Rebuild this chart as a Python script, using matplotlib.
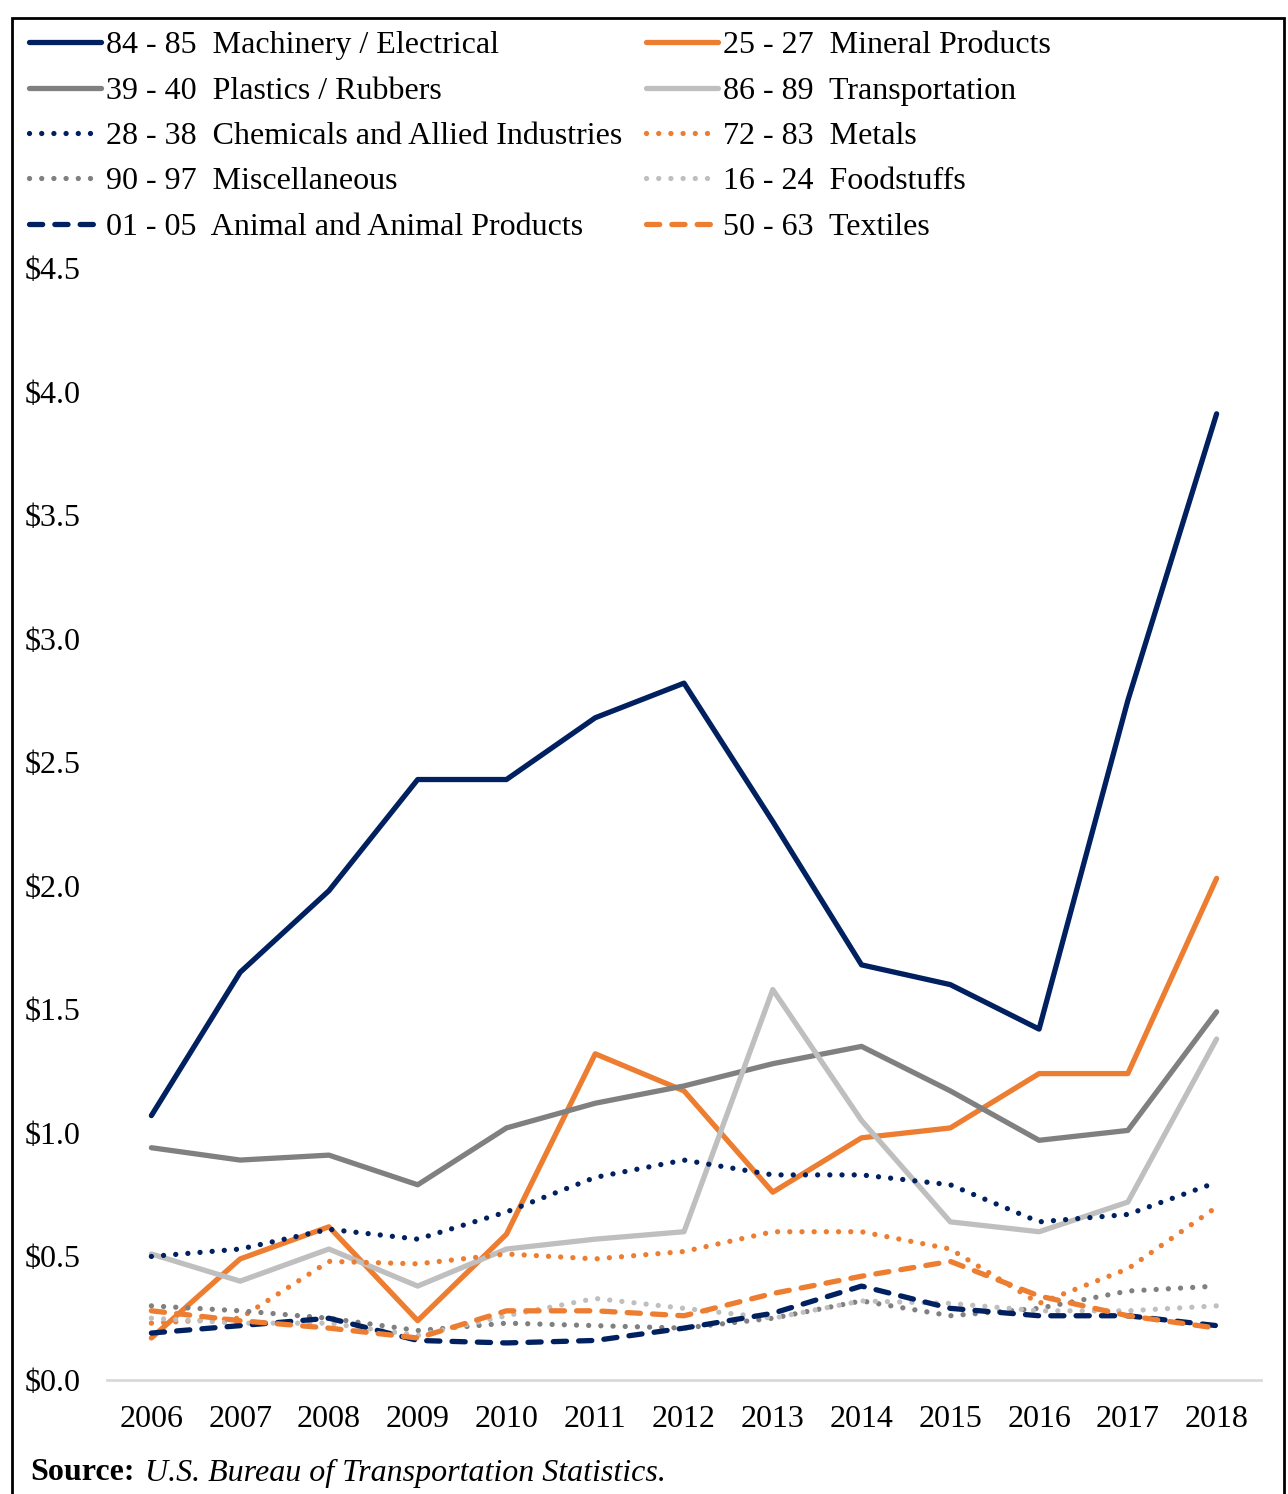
import numpy as np
import matplotlib
matplotlib.use('Agg')
import matplotlib.pyplot as plt
from matplotlib.patches import Rectangle

plt.rcParams['font.family'] = ['Liberation Serif', 'DejaVu Serif']

years = ['2006', '2007', '2008', '2009', '2010', '2011', '2012',
         '2013', '2014', '2015', '2016', '2017', '2018']

machinery = [1.07, 1.65, 1.98, 2.43, 2.43, 2.68, 2.82, 2.26, 1.68, 1.60, 1.42, 2.75, 3.91]
mineral = [0.17, 0.49, 0.62, 0.24, 0.59, 1.32, 1.17, 0.76, 0.98, 1.02, 1.24, 1.24, 2.03]
plastics = [0.94, 0.89, 0.91, 0.79, 1.02, 1.12, 1.19, 1.28, 1.35, 1.17, 0.97, 1.01, 1.49]
transport = [0.51, 0.40, 0.53, 0.38, 0.53, 0.57, 0.60, 1.58, 1.05, 0.64, 0.60, 0.72, 1.38]
chemicals = [0.50, 0.53, 0.61, 0.57, 0.68, 0.82, 0.89, 0.83, 0.83, 0.79, 0.64, 0.67, 0.80]
metals = [0.23, 0.25, 0.48, 0.47, 0.51, 0.49, 0.52, 0.60, 0.60, 0.53, 0.31, 0.45, 0.70]
misc = [0.30, 0.28, 0.25, 0.20, 0.23, 0.22, 0.21, 0.25, 0.32, 0.26, 0.29, 0.36, 0.38]
foodstuffs = [0.25, 0.23, 0.23, 0.18, 0.26, 0.33, 0.29, 0.25, 0.32, 0.31, 0.28, 0.28, 0.30]
animal = [0.19, 0.22, 0.25, 0.16, 0.15, 0.16, 0.21, 0.27, 0.38, 0.29, 0.26, 0.26, 0.22]
textiles = [0.28, 0.24, 0.21, 0.17, 0.28, 0.28, 0.26, 0.35, 0.42, 0.48, 0.34, 0.26, 0.21]

labels = ['84 - 85  Machinery / Electrical', '25 - 27  Mineral Products',
          '39 - 40  Plastics / Rubbers', '86 - 89  Transportation',
          '28 - 38  Chemicals and Allied Industries', '72 - 83  Metals',
          '90 - 97  Miscellaneous', '16 - 24  Foodstuffs',
          '01 - 05  Animal and Animal Products', '50 - 63  Textiles']
series = [machinery, mineral, plastics, transport, chemicals,
          metals, misc, foodstuffs, animal, textiles]

navy = '#002060'
orange = '#ED7D31'
gray = '#808080'
lgray = '#BFBFBF'
colors = [navy, orange, gray, lgray, navy, orange, gray, lgray, navy, orange]
solid = '-'
dot = (0, (0.01, 2.3))
dash = (0, (2.5, 2.3))
styles = [solid, solid, solid, solid, dot, dot, dot, dot, dash, dash]

W, H = 1288, 1494
fig = plt.figure(figsize=(W / 100, H / 100), dpi=100)
ax = fig.add_axes([107 / W, (H - 1380) / H, (1261 - 107) / W, (1380 - 268) / H])

x = np.arange(len(years))
handles = []
for vals, c, ls, lab in zip(series, colors, styles, labels):
    ln, = ax.plot(x, vals, color=c, linestyle=ls, lw=3.8, label=lab,
                  dash_capstyle='round', solid_capstyle='round')
    handles.append(ln)

ax.set_xlim(-0.5, len(years) - 0.5)
ax.set_ylim(0, 4.5)
ax.set_xticks(x)
ax.set_xticklabels(years)
yt = np.arange(0, 4.51, 0.5)
ax.set_yticks(yt)
ax.set_yticklabels(['$%.1f' % v for v in yt], ha='left')
ax.tick_params(axis='y', length=0, labelsize=23, pad=59)
ax.tick_params(axis='x', length=0, labelsize=23, pad=18)
for s in ['top', 'right', 'left']:
    ax.spines[s].set_visible(False)
ax.spines['bottom'].set_color('#D9D9D9')
ax.spines['bottom'].set_linewidth(2)

order = [0, 2, 4, 6, 8, 1, 3, 5, 7, 9]
fig.legend([handles[i] for i in order], [labels[i] for i in order],
           loc='upper left', bbox_to_anchor=(29 / W, 1 - 31 / H), ncol=2,
           frameon=False, fontsize=23, handlelength=2.26, handletextpad=0.15,
           columnspacing=0.75, labelspacing=0.5, borderaxespad=0, borderpad=0)

fig.text(30 / W, 1 - 1473 / H, 'Source:', fontsize=23, fontweight='bold', va='center')
fig.text(145 / W, 1 - 1473 / H, 'U.S. Bureau of Transportation Statistics.',
         fontsize=23, style='italic', va='center')

fig.patches.append(Rectangle((12 / W, -0.05), (1284 - 12) / W, 1.05 - 18 / H,
                             transform=fig.transFigure, fill=False,
                             edgecolor='black', lw=2))

fig.savefig('out.png', dpi=100)
